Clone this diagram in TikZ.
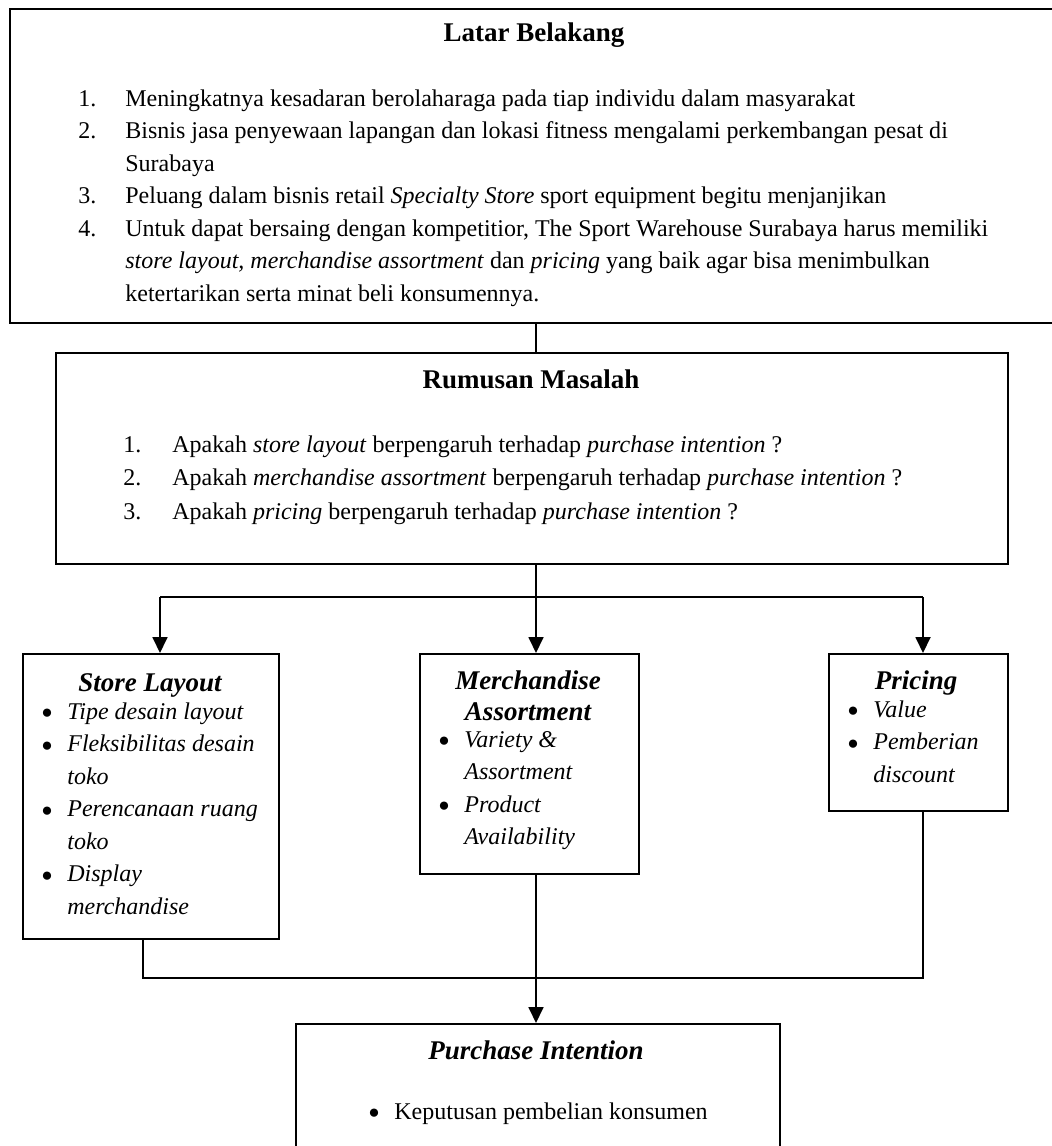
\documentclass[tikz,border=0pt]{standalone}
\usepackage{fontspec}
\setmainfont{Liberation Serif}[Ligatures=NoCommon]
\usepackage{graphicx}
\usetikzlibrary{arrows.meta}
\newcommand\bul{\makebox[13pt][l]{\raisebox{0.3pt}{\fontsize{9.5}{9.5}\selectfont\upshape ●}}}
\newcommand\bulsp{\hspace*{13pt}}
\newcommand\ttlfont{\fontsize{13.5}{15.5}\selectfont\bfseries}
\newcommand\bodyfont{\fontsize{12}{16.25}\selectfont}
\newcommand\rmfontsz{\fontsize{12}{16.75}\selectfont}
\begin{document}
\begin{tikzpicture}[x=0.5pt,y=-0.5pt,
  box/.style={draw, line width=1pt, inner sep=0pt, anchor=north west},
  txt/.style={inner sep=0pt},
  list/.style={inner sep=0pt, anchor=north west},
  link/.style={line width=0.9pt},
  arr/.style={link, -{Triangle[width=7.5pt,length=8pt]}}]
\useasboundingbox (0,0) rectangle (1052,1146);
\clip (0,0) rectangle (1052,1146);

% boxes
\node[box, minimum width=525.5pt, minimum height=157pt] (lb) at (9,8) {};
\node[box, minimum width=476pt, minimum height=105.5pt] (rm) at (55,352) {};
\node[box, minimum width=128pt, minimum height=142.5pt] (sl) at (22,653) {};
\node[box, minimum width=109.5pt, minimum height=110pt] (ma) at (419,653) {};
\node[box, minimum width=89.5pt, minimum height=78.5pt] (pr) at (828,653) {};
\node[box, minimum width=242pt, minimum height=70pt] (pi) at (295,1023) {};

% Latar Belakang
\node[txt, anchor=base] (lbt) at (534,41) {\ttlfont Latar Belakang};
\node[list] (lbl) at (78,83) {\bodyfont\begin{tabular}{@{}p{23.5pt}@{}l@{}}
1. & Meningkatnya kesadaran berolaharaga pada tiap individu dalam masyarakat\\
2. & Bisnis jasa penyewaan lapangan dan lokasi fitness mengalami perkembangan pesat di\\
   & Surabaya\\
3. & Peluang dalam bisnis retail \textit{Specialty Store} sport equipment begitu menjanjikan\\
4. & Untuk dapat bersaing dengan kompetitior, The Sport Warehouse Surabaya harus memiliki\\
   & \textit{store layout, merchandise assortment} dan \textit{pricing} yang baik agar bisa menimbulkan\\
   & ketertarikan serta minat beli konsumennya.
\end{tabular}};

% Rumusan Masalah
\node[txt, anchor=base] (rmt) at (531,388) {\ttlfont Rumusan Masalah};
\node[list] (rml) at (123,428.5) {\rmfontsz\begin{tabular}{@{}p{24.5pt}@{}l@{}}
1. & Apakah \textit{store layout} berpengaruh terhadap \textit{purchase intention} ?\\
2. & Apakah \textit{merchandise assortment} berpengaruh terhadap \textit{purchase intention} ?\\
3. & Apakah \textit{pricing} berpengaruh terhadap \textit{purchase intention} ?
\end{tabular}};

% Store Layout
\node[txt, anchor=base] (slt) at (150,691) {\ttlfont\itshape Store Layout};
\node[list] (sll) at (41,696) {\bodyfont\itshape\begin{tabular}{@{}l@{}}
\bul Tipe desain layout\\
\bul Fleksibilitas desain\\
\bulsp toko\\
\bul Perencanaan ruang\\
\bulsp toko\\
\bul Display\\
\bulsp merchandise
\end{tabular}};

% Merchandise Assortment
\node[list, anchor=north] (mat) at (528,667.3) {\ttlfont\itshape\begin{tabular}{@{}c@{}}
Merchandise\\ Assortment
\end{tabular}};
\node[list] (mal) at (438,724) {\bodyfont\itshape\begin{tabular}{@{}l@{}}
\bul Variety \&\\
\bulsp Assortment\\
\bul Product\\
\bulsp Availability
\end{tabular}};

% Pricing
\node[txt, anchor=base] (prt) at (916,689) {\ttlfont\itshape Pricing};
\node[list] (prl) at (847,694) {\bodyfont\itshape\begin{tabular}{@{}l@{}}
\bul Value\\
\bul Pemberian\\
\bulsp discount
\end{tabular}};

% Purchase Intention
\node[txt, anchor=base] (pit) at (536,1059) {\ttlfont\itshape Purchase Intention};
\node[list] (pil) at (368,1096.25) {\bodyfont\begin{tabular}{@{}l@{}}
\bul Keputusan pembelian konsumen
\end{tabular}};

% connectors
\coordinate (jx) at (536,597);
\coordinate (jl) at (160,597);
\coordinate (jr) at (923,597);
\coordinate (bl) at (143,978);
\coordinate (br) at (923,978);

\draw[link] (lb.south -| jx) -- (rm.north -| jx);
\draw[arr] (rm.south -| jx) -- (ma.north -| jx);
\draw[link] (jl) -- (jr);
\draw[arr] (jl) -- (jl |- sl.north);
\draw[arr] (jr) -- (jr |- pr.north);
\draw[link] (sl.south -| bl) -- (bl) -- (br) -- (pr.south -| br);
\draw[arr] (ma.south -| jx) -- (pi.north -| jx);
\end{tikzpicture}
\end{document}
